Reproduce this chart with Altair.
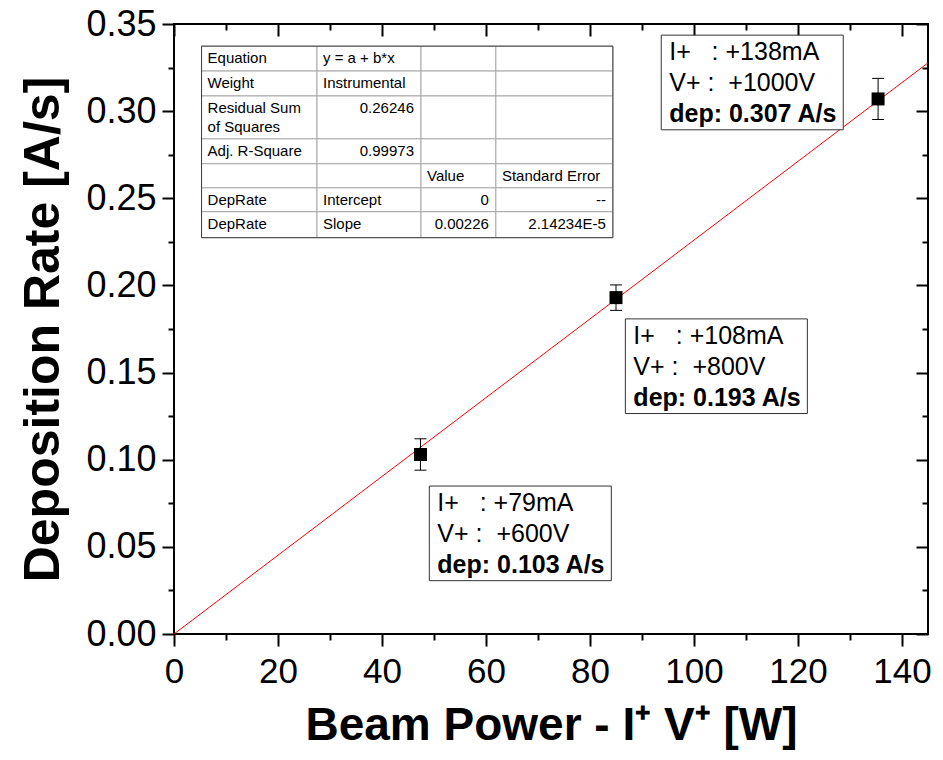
import altair as alt
import pandas as pd

# ---------------- data ----------------
power_w = [47.4, 85.0, 135.4]            # Beam power I+V+ [W]
dep_rate = [0.103, 0.193, 0.307]          # deposition rate [A/s]
dep_err = [0.009, 0.0073, 0.0118]         # error bar half-height [A/s]
beam_current = ["+79mA", "+108mA", "+138mA"]
beam_voltage = ["+600V", "+800V", "+1000V"]
dep_label = ["0.103", "0.193", "0.307"]

fit_slope = 0.00226
fit_intercept = 0.0
fit_x = [0, 145]

table_cells = [
    ["Equation", "y = a + b*x", "", ""],
    ["Weight", "Instrumental", "", ""],
    ["Residual Sum\nof Squares", "0.26246", "", ""],
    ["Adj. R-Square", "0.99973", "", ""],
    ["", "", "Value", "Standard Error"],
    ["DepRate", "Intercept", "0", "--"],
    ["DepRate", "Slope", "0.00226", "2.14234E-5"],
]
right_aligned = {(2, 1), (3, 1), (5, 2), (6, 2), (5, 3), (6, 3)}

x_ticks = [0, 20, 40, 60, 80, 100, 120, 140]
x_minor = [10, 30, 50, 70, 90, 110, 130]
y_ticks = [0.0, 0.05, 0.10, 0.15, 0.20, 0.25, 0.30, 0.35]
y_minor = [0.025, 0.075, 0.125, 0.175, 0.225, 0.275, 0.325]

# ---------------- layout (data units) ----------------
X_DOMAIN = [0, 145]
Y_DOMAIN = [0, 0.35]
table_col_edges = [5.3, 27.5, 47.5, 61.9, 84.4]
table_row_edges = [0.3373, 0.3230, 0.3087, 0.2841, 0.2698, 0.2560, 0.2423, 0.2274]
box_left = [49.1, 86.8, 93.7]
box_top = [0.0849, 0.1808, 0.3436]
box_w = 35.0
box_h = 0.0543

FONT = "Liberation Sans"

# ---------------- frames ----------------
pts = pd.DataFrame({
    "x": power_w,
    "y": dep_rate,
    "lo": [v - e for v, e in zip(dep_rate, dep_err)],
    "hi": [v + e for v, e in zip(dep_rate, dep_err)],
})
fit = pd.DataFrame({"x": fit_x, "y": [fit_intercept + fit_slope * v for v in fit_x]})

cells = []
texts = []
for r, row in enumerate(table_cells):
    for c, t in enumerate(row):
        cells.append({"x0": table_col_edges[c], "x1": table_col_edges[c + 1],
                      "y0": table_row_edges[r], "y1": table_row_edges[r + 1]})
        if t:
            ra = (r, c) in right_aligned
            texts.append({"x": table_col_edges[c + 1] if ra else table_col_edges[c],
                          "y": table_row_edges[r], "t": t, "ra": ra})
cells = pd.DataFrame(cells)
texts = pd.DataFrame(texts)
outer = pd.DataFrame({"x0": [table_col_edges[0]], "x1": [table_col_edges[-1]],
                      "y0": [table_row_edges[0]], "y1": [table_row_edges[-1]]})

ann = pd.DataFrame({
    "x0": box_left,
    "x1": [v + box_w for v in box_left],
    "y0": box_top,
    "y1": [v - box_h for v in box_top],
    "l1": ["I+\u00a0\u00a0\u00a0: " + s for s in beam_current],
    "l2": ["V+ :\u00a0\u00a0" + s for s in beam_voltage],
    "l3": ["dep: " + s + " A/s" for s in dep_label],
})

xs = alt.Scale(domain=X_DOMAIN, nice=False, zero=False)
ys = alt.Scale(domain=Y_DOMAIN, nice=False, zero=False)

common = dict(grid=False, domain=False, tickColor="black", tickWidth=2,
              labelFont=FONT, labelColor="black")

ax_bottom = alt.Axis(values=x_ticks, format="d", tickSize=12, labelFontSize=35,
                     labelPadding=8, labelFlush=False, labelOverlap=False,
                     title="Beam Power - I\u207a V\u207a [W]", titleFont=FONT,
                     titleFontSize=46, titleFontWeight="bold", titleColor="black",
                     titlePadding=14, **common)
ax_left = alt.Axis(values=y_ticks, format=".2f", tickSize=12, labelFontSize=36,
                   labelPadding=6, labelFlush=False, labelOverlap=False,
                   title="Deposition Rate [A/s]", titleFont=FONT, titleFontSize=50,
                   titleFontWeight="bold", titleColor="black", titlePadding=17,
                   **common)
ax_bottom_minor = alt.Axis(values=x_minor, tickSize=6, labels=False, title=None, **common)
ax_left_minor = alt.Axis(values=y_minor, tickSize=6, labels=False, title=None, **common)
ax_top = alt.Axis(orient="top", values=x_ticks, tickSize=12, offset=-12, labels=False,
                  title=None, **common)
ax_right = alt.Axis(orient="right", values=y_ticks, tickSize=12, offset=-12, labels=False,
                    title=None, **common)
ax_top_minor = alt.Axis(orient="top", values=x_minor, tickSize=6, offset=-6, labels=False,
                        title=None, **common)
ax_right_minor = alt.Axis(orient="right", values=y_minor, tickSize=6, offset=-6,
                          labels=False, title=None, **common)

base = alt.Chart(pts)

fit_line = alt.Chart(fit).mark_line(color="#ff0000", strokeWidth=1, clip=True).encode(
    x=alt.X("x:Q", scale=xs, axis=None), y=alt.Y("y:Q", scale=ys, axis=None))

err_rule = base.mark_rule(color="black", strokeWidth=1).encode(
    x=alt.X("x:Q", scale=xs, axis=ax_bottom_minor),
    y=alt.Y("lo:Q", scale=ys, axis=ax_left_minor), y2="hi:Q")

cap_lo = base.mark_tick(orient="horizontal", size=12, thickness=1, color="black",
                        opacity=1).encode(
    x=alt.X("x:Q", scale=xs, axis=ax_top),
    y=alt.Y("lo:Q", scale=ys, axis=ax_right))

cap_hi = base.mark_tick(orient="horizontal", size=12, thickness=1, color="black",
                        opacity=1).encode(
    x=alt.X("x:Q", scale=xs, axis=ax_top_minor),
    y=alt.Y("hi:Q", scale=ys, axis=ax_right_minor))

squares = base.mark_square(size=169, color="black", filled=True, opacity=1).encode(
    x=alt.X("x:Q", scale=xs, axis=ax_bottom),
    y=alt.Y("y:Q", scale=ys, axis=ax_left))

tcells = alt.Chart(cells).mark_rect(fill="white", stroke="#a8a8a8", strokeWidth=1).encode(
    x=alt.X("x0:Q", scale=xs, axis=None), x2="x1:Q",
    y=alt.Y("y0:Q", scale=ys, axis=None), y2="y1:Q")

touter = alt.Chart(outer).mark_rect(fill=None, fillOpacity=0, stroke="#404040",
                                    strokeWidth=1).encode(
    x=alt.X("x0:Q", scale=xs, axis=None), x2="x1:Q",
    y=alt.Y("y0:Q", scale=ys, axis=None), y2="y1:Q")

ttext_l = alt.Chart(texts).transform_filter("!datum.ra").mark_text(
    align="left", baseline="top", dx=6, dy=5, font=FONT, fontSize=15, color="black",
    lineBreak="\n", lineHeight=19).encode(
    x=alt.X("x:Q", scale=xs, axis=None), y=alt.Y("y:Q", scale=ys, axis=None), text="t:N")

ttext_r = alt.Chart(texts).transform_filter("datum.ra").mark_text(
    align="right", baseline="top", dx=-7, dy=5, font=FONT, fontSize=15, color="black").encode(
    x=alt.X("x:Q", scale=xs, axis=None), y=alt.Y("y:Q", scale=ys, axis=None), text="t:N")

abox = alt.Chart(ann).mark_rect(fill="white", stroke="#333333", strokeWidth=1).encode(
    x=alt.X("x0:Q", scale=xs, axis=None), x2="x1:Q",
    y=alt.Y("y0:Q", scale=ys, axis=None), y2="y1:Q")


def ann_line(field, dy, weight):
    return alt.Chart(ann).mark_text(align="left", baseline="middle", dx=8, dy=dy,
                                    font=FONT, fontSize=25, fontWeight=weight,
                                    color="black").encode(
        x=alt.X("x0:Q", scale=xs, axis=None), y=alt.Y("y0:Q", scale=ys, axis=None),
        text=f"{field}:N")


chart = alt.layer(
    fit_line, err_rule, cap_lo, cap_hi, squares,
    tcells, touter, ttext_l, ttext_r,
    abox, ann_line("l1", 17, "normal"), ann_line("l2", 48, "normal"),
    ann_line("l3", 79, "bold"),
).resolve_axis(x="independent", y="independent").properties(
    width=754, height=610,
    autosize=alt.AutoSizeParams(type="none"),
    padding={"left": 174, "top": 24, "right": 15, "bottom": 126},
    background="white",
).configure_view(stroke="black", strokeWidth=2)

chart.save("out.html", embed_options={"renderer": "svg", "actions": False})
